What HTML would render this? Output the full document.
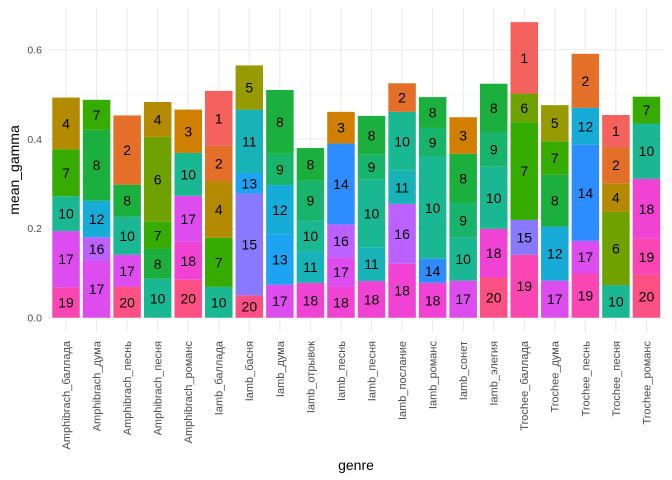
<!DOCTYPE html>
<html><head><meta charset="utf-8"><style>
body{margin:0;background:#fff;}
svg{display:block;font-family:"Liberation Sans",sans-serif;}
</style></head><body>
<svg id="chart" width="672" height="480" viewBox="0 0 672 480"></svg>
<script>
const genres=["Amphibrach_баллада","Amphibrach_дума","Amphibrach_песнь","Amphibrach_песня","Amphibrach_романс","Iamb_баллада","Iamb_басня","Iamb_дума","Iamb_отрывок","Iamb_песнь","Iamb_песня","Iamb_послание","Iamb_романс","Iamb_сонет","Iamb_элегия","Trochee_баллада","Trochee_дума","Trochee_песнь","Trochee_песня","Trochee_романс"];
// topics per bar, bottom to top
const topics=[[19,17,10,7,4],[17,16,12,8,7],[20,17,10,8,2],[10,8,7,6,4],[20,18,17,10,3],[10,7,4,2,1],[20,15,13,11,5],[17,13,12,9,8],[18,11,10,9,8],[18,17,16,14,3],[18,11,10,9,8],[18,16,11,10,2],[18,14,10,9,8],[17,10,9,8,3],[20,18,10,9,8],[19,15,7,6,1],[17,12,8,7,5],[19,17,14,12,2],[10,6,4,2,1],[20,19,18,10,7]];
const gammas=[[0.068,0.126,0.078,0.105,0.116],[0.128,0.052,0.082,0.159,0.067],[0.069,0.072,0.085,0.072,0.155],[0.087,0.067,0.061,0.19,0.078],[0.085,0.085,0.103,0.096,0.097],[0.069,0.11,0.127,0.079,0.123],[0.05,0.228,0.046,0.142,0.099],[0.074,0.112,0.111,0.07,0.143],[0.078,0.07,0.069,0.09,0.073],[0.069,0.066,0.074,0.181,0.071],[0.082,0.076,0.151,0.056,0.087],[0.121,0.134,0.074,0.132,0.064],[0.078,0.054,0.228,0.065,0.069],[0.083,0.096,0.078,0.11,0.082],[0.09,0.109,0.139,0.078,0.108],[0.141,0.078,0.219,0.064,0.16],[0.083,0.121,0.116,0.075,0.081],[0.099,0.073,0.215,0.083,0.121],[0.073,0.164,0.064,0.081,0.072],[0.096,0.081,0.134,0.124,0.06]];
const yTicks=[0,0.2,0.4,0.6];
const yTickLabels=["0.0","0.2","0.4","0.6"];
const topicColors=["#F5615C","#E36F28","#D07F00","#B38A00","#979A00","#6FA200","#36AB00","#1BAF3E","#19B46C","#1AB793","#17B3B7","#17ACD8","#1EA3F2","#2D8DFF","#8879FF","#BB61FF","#DC4CEE","#F143D3","#F946B3","#FD5085"];

const svg=document.getElementById('chart');
const NS='http://www.w3.org/2000/svg';
function mk(tag,attrs,parent){const e=document.createElementNS(NS,tag);for(const k in attrs)e.setAttribute(k,attrs[k]);(parent||svg).appendChild(e);return e;}
const panelL=47.7,panelR=664.8,panelT=8,panelB=332.4;
const step=(panelR-panelL)/(genres.length+0.2);
function xC(i){return panelL+step*(0.6+i);}
function yS(v){return 317.7-v*446.5;}
const bw=step*0.9;

const grid=mk('g',{});


for(let v=0.1;v<0.7;v+=0.2){const l=mk('line',{x1:panelL,x2:panelR,y1:yS(v),y2:yS(v),stroke:'#f0f0f0','stroke-width':0.6},grid);}
yTicks.forEach((v,i)=>{const l=mk('line',{x1:panelL,x2:panelR,y1:yS(v),y2:yS(v),stroke:'#ebebeb','stroke-width':1.1},grid);
const t=mk('text',{x:42,y:yS(v)+3.8,'text-anchor':'end','font-size':10.5,fill:'#4d4d4d'});t.textContent=yTickLabels[i];});
genres.forEach((g,i)=>{const l=mk('line',{x1:xC(i),x2:xC(i),y1:panelT,y2:panelB,stroke:'#ebebeb','stroke-width':1.1},grid);});

genres.forEach((g,i)=>{
  const bar=mk('g',{});
  
  
  let cum=0;
  gammas[i].forEach((v,j)=>{
    const y0=yS(cum),y1=yS(cum+v);
    const r=mk('rect',{x:xC(i)-bw/2,y:y1,width:bw,height:y0-y1,fill:topicColors[topics[i][j]-1]},bar);
    
    
    const t=mk('text',{x:xC(i),y:(y0+y1)/2+5,'text-anchor':'middle','font-size':14,fill:'#000'},bar);
    t.textContent=topics[i][j];
    
    
    cum+=v;
  });
  const t=mk('text',{x:0,y:0,'text-anchor':'end','font-size':11,fill:'#4d4d4d',transform:`translate(${xC(i)+3.9},341) rotate(-90)`});
  t.textContent=g;
  
  
});

const xt=mk('text',{x:356,y:470,'text-anchor':'middle','font-size':14,fill:'#000'});
xt.textContent='genre';


const yt=mk('text',{x:0,y:0,'text-anchor':'middle','font-size':14,fill:'#000',transform:'translate(19,170) rotate(-90)'});
yt.textContent='mean_gamma';


</script>
</body></html>
